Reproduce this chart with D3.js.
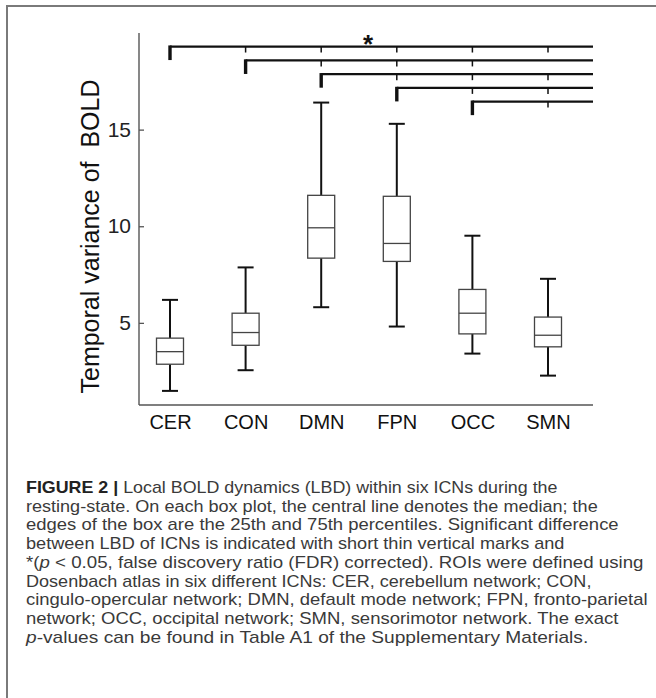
<!DOCTYPE html>
<html>
<head>
<meta charset="utf-8">
<script src="https://cdn.jsdelivr.net/npm/d3@7"></script>
<style>
  html, body { margin: 0; padding: 0; background: #fff; }
  svg { display: block; }
</style>
</head>
<body>
<script>
// ---------------- data ----------------
const categories = ["CER", "CON", "DMN", "FPN", "OCC", "SMN"];
const whiskerLow  = [1.48, 2.55, 5.81, 4.81, 3.41, 2.27];
const q1          = [2.86, 3.84, 8.35, 8.18, 4.43, 3.76];
const medians     = [3.51, 4.50, 9.92, 9.11, 5.50, 4.36];
const q3          = [4.21, 5.50, 11.60, 11.55, 6.73, 5.30];
const whiskerHigh = [6.19, 7.87, 16.40, 15.30, 9.51, 7.28];
const yTicks = [5, 10, 15];
const yLabel = "Temporal variance of  BOLD";

// significance brackets: origin group, level (y value), groups marked as different
const bracketFrom   = ["CER", "CON", "DMN", "FPN", "OCC"];
const bracketLevels = [19.30, 18.58, 17.87, 17.16, 16.45];
const bracketMarks  = [
  ["CON", "DMN", "FPN", "OCC", "SMN"],
  ["DMN", "FPN", "OCC"],
  ["FPN", "OCC", "SMN"],
  ["OCC", "SMN"],
  ["SMN"]
];
const starLabel = "*";

const captionLines = [
  [{t: "FIGURE 2 |", b: true}, {t: " Local BOLD dynamics (LBD) within six ICNs during the"}],
  [{t: "resting-state. On each box plot, the central line denotes the median; the"}],
  [{t: "edges of the box are the 25th and 75th percentiles. Significant difference"}],
  [{t: "between LBD of ICNs is indicated with short thin vertical marks and"}],
  [{t: "*("}, {t: "p", i: true}, {t: " < 0.05, false discovery ratio (FDR) corrected). ROIs were defined using"}],
  [{t: "Dosenbach atlas in six different ICNs: CER, cerebellum network; CON,"}],
  [{t: "cingulo-opercular network; DMN, default mode network; FPN, fronto-parietal"}],
  [{t: "network; OCC, occipital network; SMN, sensorimotor network. The exact"}],
  [{t: "p", i: true}, {t: "-values can be found in Table A1 of the Supplementary Materials."}]
];
// layout (rendered widths of caption lines, px)
const captionWidths = [532, 572, 593, 539, 618, 566, 622, 593, 563];

// ---------------- drawing ----------------
const W = 656, H = 698;
const svg = d3.select("body").append("svg")
  .attr("width", W).attr("height", H)
  .style("font-family", "'Liberation Sans', Arial, Helvetica, sans-serif");

// frame
svg.append("path")
  .attr("d", `M7,${H} L7,6 L${W},6`)
  .attr("fill", "none").attr("stroke", "#7a7a7a").attr("stroke-width", 2);

const axisLeft = 139, axisRight = 593, axisTop = 33, axisBottom = 405;

const x = d3.scalePoint().domain(categories).range([170, 548]);
const y = d3.scaleLinear().domain([0.75, 20]).range([axisBottom, axisTop]);

// axes
const g = svg.append("g");
g.append("line").attr("x1", axisLeft).attr("x2", axisLeft)
  .attr("y1", axisTop).attr("y2", axisBottom)
  .attr("stroke", "#555").attr("stroke-width", 1.4);
g.append("line").attr("x1", axisLeft).attr("x2", axisRight)
  .attr("y1", axisBottom).attr("y2", axisBottom)
  .attr("stroke", "#555").attr("stroke-width", 1.4);

const yAxis = d3.axisRight(y).tickValues(yTicks).tickSize(5).tickFormat(d3.format("d"));
const ya = g.append("g").attr("transform", `translate(${axisLeft},0)`).call(yAxis);
ya.select(".domain").remove();
ya.selectAll(".tick line").attr("stroke", "#555").attr("stroke-width", 1.3);
ya.selectAll(".tick text")
  .attr("x", -8).attr("text-anchor", "end")
  .attr("font-size", 21).attr("fill", "#222")
  .attr("font-family", "'Liberation Sans', Arial, sans-serif");

const xAxis = d3.axisBottom(x).tickSize(0).tickPadding(0);
const xa = g.append("g").attr("transform", `translate(0,${axisBottom})`).call(xAxis);
xa.select(".domain").remove();
xa.selectAll(".tick text")
  .attr("dy", null).attr("y", 23.5)
  .attr("font-size", 20).attr("fill", "#111")
  .attr("font-family", "'Liberation Sans', Arial, sans-serif");

// y label
svg.append("text")
  .attr("transform", `translate(99,${(78 + 395) / 2}) rotate(-90)`)
  .attr("text-anchor", "middle")
  .attr("font-size", 25).attr("fill", "#111")
  .style("white-space", "pre")
  .text(yLabel);

// boxes
const boxW = 27, capW = 16;
const boxes = svg.append("g").selectAll("g").data(categories).join("g")
  .attr("transform", d => `translate(${x(d)},0)`);

boxes.append("line") // upper whisker
  .attr("x1", 0).attr("x2", 0)
  .attr("y1", (d, i) => y(q3[i])).attr("y2", (d, i) => y(whiskerHigh[i]))
  .attr("stroke", "#111").attr("stroke-width", 2);
boxes.append("line") // lower whisker
  .attr("x1", 0).attr("x2", 0)
  .attr("y1", (d, i) => y(q1[i])).attr("y2", (d, i) => y(whiskerLow[i]))
  .attr("stroke", "#111").attr("stroke-width", 2);
boxes.append("line") // top cap
  .attr("x1", -capW / 2).attr("x2", capW / 2)
  .attr("y1", (d, i) => y(whiskerHigh[i])).attr("y2", (d, i) => y(whiskerHigh[i]))
  .attr("stroke", "#111").attr("stroke-width", 2);
boxes.append("line") // bottom cap
  .attr("x1", -capW / 2).attr("x2", capW / 2)
  .attr("y1", (d, i) => y(whiskerLow[i])).attr("y2", (d, i) => y(whiskerLow[i]))
  .attr("stroke", "#111").attr("stroke-width", 2);
boxes.append("rect")
  .attr("x", -boxW / 2).attr("width", boxW)
  .attr("y", (d, i) => y(q3[i]))
  .attr("height", (d, i) => y(q1[i]) - y(q3[i]))
  .attr("fill", "#fff").attr("stroke", "#444").attr("stroke-width", 1.3);
boxes.append("line") // median
  .attr("x1", -boxW / 2).attr("x2", boxW / 2)
  .attr("y1", (d, i) => y(medians[i])).attr("y2", (d, i) => y(medians[i]))
  .attr("stroke", "#444").attr("stroke-width", 1.3);

// significance brackets
const br = svg.append("g");
const dropUnits = 0.7;
bracketFrom.forEach((c, i) => {
  const yy = y(bracketLevels[i]);
  br.append("line")
    .attr("x1", x(c)).attr("x2", axisRight)
    .attr("y1", yy).attr("y2", yy)
    .attr("stroke", "#111").attr("stroke-width", 2.2);
  br.append("line")
    .attr("x1", x(c)).attr("x2", x(c))
    .attr("y1", yy - 1.1).attr("y2", y(bracketLevels[i] - dropUnits))
    .attr("stroke", "#111").attr("stroke-width", 3.4);
  bracketMarks[i].forEach(m => {
    br.append("line")
      .attr("x1", x(m)).attr("x2", x(m))
      .attr("y1", yy).attr("y2", yy + 6)
      .attr("stroke", "#111").attr("stroke-width", 1.5);
  });
});
br.append("text")
  .attr("x", x("DMN") + x.step() * 0.62)
  .attr("y", y(bracketLevels[0]) + 6)
  .attr("text-anchor", "middle")
  .attr("font-size", 26).attr("font-weight", "bold").attr("fill", "#111")
  .text(starLabel);

// caption
const cap = svg.append("g");
captionLines.forEach((parts, i) => {
  const row = cap.append("g");
  const t = row.append("text")
    .attr("x", 0).attr("y", 0)
    .attr("font-size", 16).attr("fill", "#3a3a3a");
  parts.forEach(p => {
    t.append("tspan")
      .attr("font-weight", p.b ? "bold" : null)
      .attr("font-style", p.i ? "italic" : null)
      .attr("fill", p.b ? "#222" : null)
      .text(p.t);
  });
  const natural = t.node().getComputedTextLength();
  const sx = captionWidths[i] / natural;
  row.attr("transform", `translate(26,${493 + i * 18.7}) scale(${sx},1)`);
});
</script>
</body>
</html>
